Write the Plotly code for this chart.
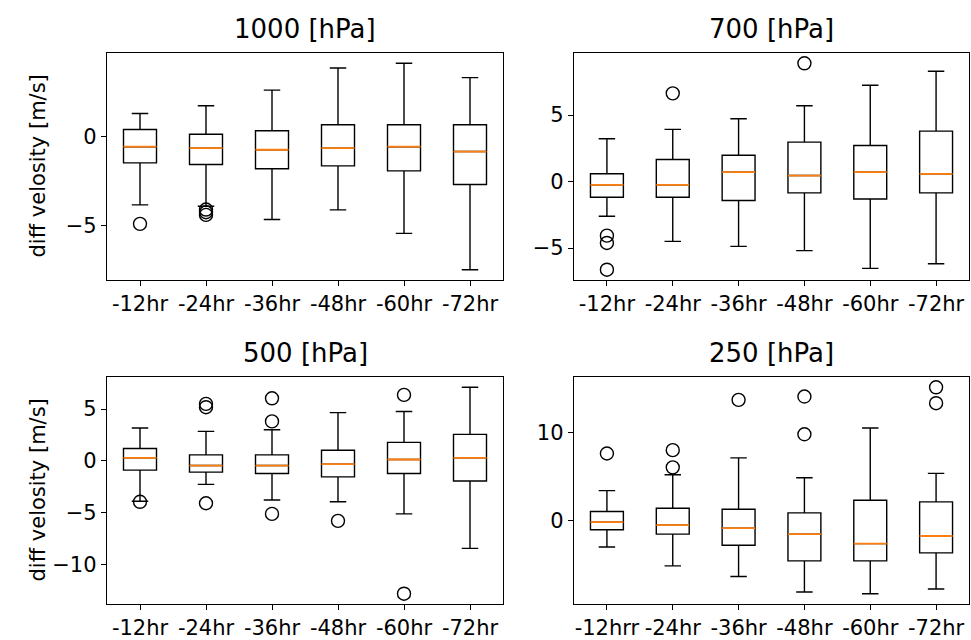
import plotly.graph_objects as go

labels = ["-12hr", "-24hr", "-36hr", "-48hr", "-60hr", "-72hr"]
labels_250 = ["-12hrr", "-24hr", "-36hr", "-48hr", "-60hr", "-72hr"]
titles = ["1000 [hPa]", "700 [hPa]", "500 [hPa]", "250 [hPa]"]

# 1000 hPa
q1_1000 = [-1.49, -1.58, -1.82, -1.66, -1.94, -2.70]
med_1000 = [-0.59, -0.67, -0.76, -0.67, -0.59, -0.86]
q3_1000 = [0.37, 0.11, 0.30, 0.64, 0.64, 0.64]
lo_1000 = [-3.84, -3.92, -4.66, -4.12, -5.43, -7.46]
hi_1000 = [1.27, 1.70, 2.57, 3.81, 4.07, 3.27]
out_1000 = [[-4.90], [-4.10, -4.25, -4.40], [], [], [], []]

# 700 hPa
q1_700 = [-1.18, -1.18, -1.43, -0.85, -1.31, -0.85]
med_700 = [-0.25, -0.25, 0.70, 0.45, 0.70, 0.58]
q3_700 = [0.58, 1.66, 1.98, 2.96, 2.71, 3.79]
lo_700 = [-2.61, -4.50, -4.88, -5.20, -6.53, -6.18]
hi_700 = [3.22, 3.92, 4.72, 5.70, 7.24, 8.29]
out_700 = [[-4.07, -4.62, -6.63], [6.63], [], [8.89], [], []]

# 500 hPa
q1_500 = [-0.89, -1.09, -1.22, -1.54, -1.22, -1.95]
med_500 = [0.29, -0.45, -0.45, -0.32, 0.13, 0.29]
q3_500 = [1.19, 0.58, 0.58, 1.03, 1.79, 2.56]
lo_500 = [-3.90, -2.27, -3.77, -3.94, -5.12, -8.45]
hi_500 = [3.17, 2.85, 3.01, 4.66, 4.76, 7.10]
out_500 = [[-3.95], [5.50, 5.18, -4.09], [6.04, 3.81, -5.12], [-5.79], [6.37, -12.82], []]

# 250 hPa
q1_250 = [-1.05, -1.55, -2.83, -4.60, -4.60, -3.69]
med_250 = [-0.19, -0.53, -0.87, -1.55, -2.64, -1.77]
q3_250 = [1.02, 1.40, 1.28, 0.87, 2.31, 2.12]
lo_250 = [-3.02, -5.17, -6.38, -8.15, -8.34, -7.81]
hi_250 = [3.40, 5.21, 7.13, 4.87, 10.53, 5.37]
out_250 = [[7.63], [8.01, 6.05], [13.74], [14.12, 9.82], [], [15.17, 13.36]]

dticks = [5, 5, 5, 10]

panels = [
    (labels, q1_1000, med_1000, q3_1000, lo_1000, hi_1000, out_1000),
    (labels, q1_700, med_700, q3_700, lo_700, hi_700, out_700),
    (labels, q1_500, med_500, q3_500, lo_500, hi_500, out_500),
    (labels_250, q1_250, med_250, q3_250, lo_250, hi_250, out_250),
]

W, H = 971, 640
FONT = "DejaVu Sans"
LW = 1.4

fig = go.Figure()

xdom = [(107, 503), (574, 969)]
ydom = [(53, 280), (377, 604)]

for i, (labs, q1, med, q3, lo, hi, out) in enumerate(panels):
    r, c = divmod(i, 2)
    xa = "x" if i == 0 else f"x{i+1}"
    ya = "y" if i == 0 else f"y{i+1}"
    fig.add_trace(go.Box(
        x=labs, q1=q1, median=med, q3=q3, lowerfence=lo, upperfence=hi,
        boxpoints=False, width=0.5, whiskerwidth=0.5,
        fillcolor="rgba(0,0,0,0)", line=dict(color="black", width=LW),
        xaxis=xa, yaxis=ya, showlegend=False, hoverinfo="skip",
    ))
    fig.add_trace(go.Box(
        x=labs, q1=med, median=med, q3=med, lowerfence=med, upperfence=med,
        boxpoints=False, width=0.5, whiskerwidth=0,
        fillcolor="rgba(0,0,0,0)", line=dict(color="#ff7f0e", width=1.8),
        xaxis=xa, yaxis=ya, showlegend=False, hoverinfo="skip",
    ))
    ox, oy = [], []
    for k, vals in enumerate(out):
        for v in vals:
            ox.append(labs[k])
            oy.append(v)
    fig.add_trace(go.Scatter(
        x=ox, y=oy, mode="markers",
        marker=dict(symbol="circle-open", size=13, color="black", line=dict(width=LW)),
        xaxis=xa, yaxis=ya, showlegend=False, hoverinfo="skip",
    ))
    allv = lo + hi + [v for vals in out for v in vals]
    vmin, vmax = min(allv), max(allv)
    pad = 0.05 * (vmax - vmin)
    x0, x1 = xdom[c]
    y0, y1 = ydom[r]
    axcommon = dict(showline=True, linecolor="black", linewidth=LW, mirror=True,
                    ticks="outside", ticklen=5, tickwidth=LW, tickcolor="black",
                    showgrid=False, zeroline=False,
                    tickfont=dict(family=FONT, size=21, color="black"))
    fig.layout[("xaxis" if i == 0 else f"xaxis{i+1}")] = dict(
        domain=[x0 / W, x1 / W], anchor=ya, type="category",
        range=[-0.5, 5.5], **axcommon)
    fig.layout[("yaxis" if i == 0 else f"yaxis{i+1}")] = dict(
        domain=[1 - y1 / H, 1 - y0 / H], anchor=xa,
        range=[vmin - pad, vmax + pad], dtick=dticks[i], tick0=0, **axcommon)
    fig.add_annotation(
        text=titles[i], xref="paper", yref="paper",
        x=(x0 + x1) / 2 / W, y=1 - (y0 - 24) / H, xanchor="center", yanchor="middle",
        showarrow=False, font=dict(family=FONT, size=26, color="black"))
    if c == 0:
        fig.add_annotation(
            text="diff velosity [m/s]", xref="paper", yref="paper",
            x=37 / W, y=1 - (y0 + y1) / 2 / H, xanchor="center", yanchor="middle",
            textangle=-90, showarrow=False,
            font=dict(family=FONT, size=21, color="black"))

fig.update_layout(
    width=W, height=H, margin=dict(l=0, r=0, t=0, b=0),
    paper_bgcolor="white", plot_bgcolor="white", boxmode="overlay",
    font=dict(family=FONT, color="black"),
)

fig.write_html("out.html", config={"displayModeBar": False},
               post_script="document.body.style.margin='0';document.body.style.overflow='hidden';")
